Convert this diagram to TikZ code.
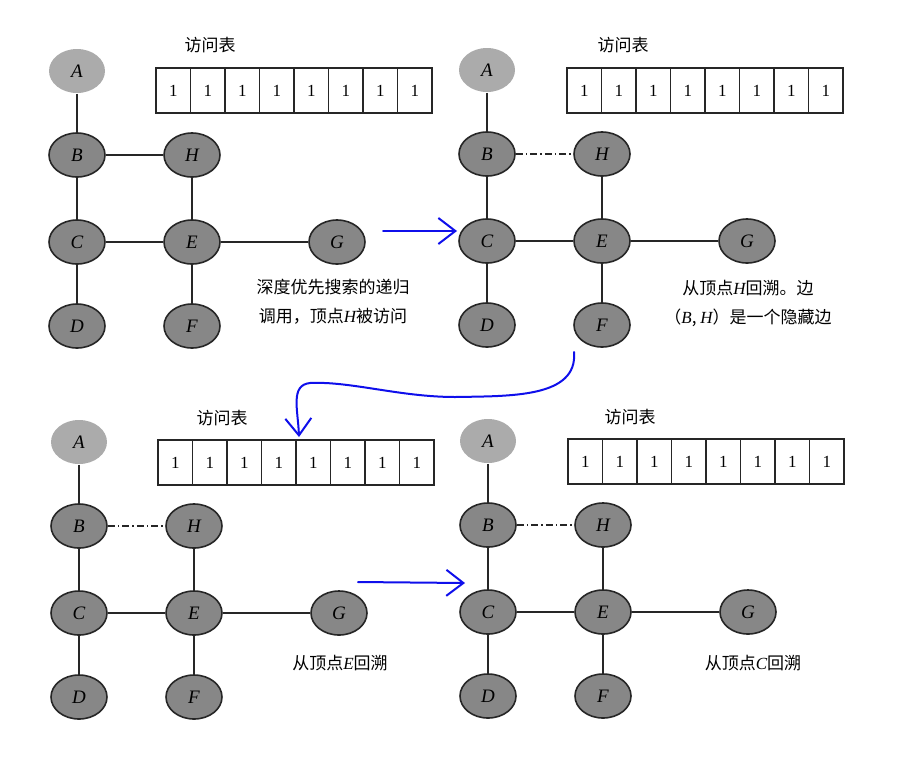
\documentclass[tikz,border=0pt]{standalone}
\usepackage{fontspec}
\setmainfont{Liberation Serif}
\newfontfamily\cjk{Noto Sans CJK SC}
\usetikzlibrary{positioning,shapes.geometric,arrows.meta}
\definecolor{penblue}{RGB}{15,15,235}
\newcommand\vx[1]{{\rmfamily\itshape #1}}

\begin{document}
\begin{tikzpicture}[
        x=1pt, y=-1pt,
        node distance=84pt,
        vtx/.style={ellipse, draw=black!85, line width=1.6pt, fill=black!47, minimum width=56pt, minimum height=44pt, inner sep=0pt, font=\fontsize{19}{19}\selectfont\itshape},
        vtxA/.style={vtx, draw=none, fill=black!33},
        cell/.style={rectangle, draw=black!85, line width=1.4pt, minimum width=34.5pt, minimum height=45pt, inner sep=0pt, font=\fontsize{17}{17}\selectfont},
        tabtitle/.style={font=\cjk\fontsize{17}{17}\selectfont},
        caption/.style={align=center, font=\cjk\fontsize{17}{29}\selectfont},
        edge/.style={draw=black!85, line width=1.6pt},
        hidden/.style={edge, dash pattern=on 7pt off 3pt on 1.5pt off 3pt},
        pen/.style={draw=penblue, line width=2pt, line cap=round, line join=round, -{Straight Barb[length=17pt, width=26pt]}}
    ]
        \useasboundingbox (0,0) rectangle (901,774);

        % the same graph in the four steps
        \foreach \p/\x/\y in {1/77/71, 2/487/70, 3/79/442, 4/488/441} {
            \node[vtxA] (A\p) at (\x,\y) {A};
            \node[vtx] (B\p) [below of=A\p] {B};
            \node[vtx] (H\p) [right of=B\p, xshift=31pt] {H};
            \node[vtx] (C\p) [below of=B\p, yshift=-3pt] {C};
            \node[vtx] (E\p) [right of=C\p, xshift=31pt] {E};
            \node[vtx] (G\p) [right of=E\p, xshift=61pt] {G};
            \node[vtx] (D\p) [below of=C\p] {D};
            \node[vtx] (F\p) [below of=E\p] {F};

            \path[edge] (A\p) -- (B\p);
            \path[edge] (B\p) -- (C\p);
            \path[edge] (H\p) -- (E\p);
            \path[edge] (C\p) -- (E\p);
            \path[edge] (E\p) -- (G\p);
            \path[edge] (C\p) -- (D\p);
            \path[edge] (E\p) -- (F\p);
        }
        \path[edge] (B1) -- (H1);
        \foreach \p in {2,3,4}
            \path[hidden] (B\p) -- (H\p);

        % visit tables
        \foreach \p/\x/\y in {1/156/90.5, 2/567/90.5, 3/158/462.5, 4/568/461.5}
            \foreach \i in {0,...,7}
                \node[cell] (T\p-\i) at ({\x+17.25+34.5*\i},\y) {1};
        \node[tabtitle] (tab1) at (210,45) {访问表};
        \node[tabtitle] (tab2) at (623,45) {访问表};
        \node[tabtitle] (tab3) at (222,418) {访问表};
        \node[tabtitle] (tab4) at (630,417) {访问表};

        % captions
        \node[caption] (cap1) at (333,302) {深度优先搜索的递归\\调用，顶点\vx{H}被访问};
        \node[caption] (cap2) at (748,303) {从顶点\vx{H}回溯。边\\（\vx{B}, \vx{H}）是一个隐藏边};
        \node[caption] (cap3) at (340,663) {从顶点\vx{E}回溯};
        \node[caption] (cap4) at (753,663) {从顶点\vx{C}回溯};

        % hand drawn arrows
        \coordinate (s1) at (383,231);
        \coordinate (e1) at (457,231);
        \coordinate (s2) at (574,352);
        \coordinate (e2) at (299,437);
        \coordinate (s3) at (358,582);
        \coordinate (e3) at (465,583);
        \path[pen] (s1) -- (e1);
        \path[pen] (s2) .. controls (578,398) and (510,396) .. (455,397)
            .. controls (400,397) and (350,381) .. (310,383)
            .. controls (290,385) and (298,410) .. (e2);
        \path[pen] (s3) -- (e3);
    \end{tikzpicture}
\end{document}
